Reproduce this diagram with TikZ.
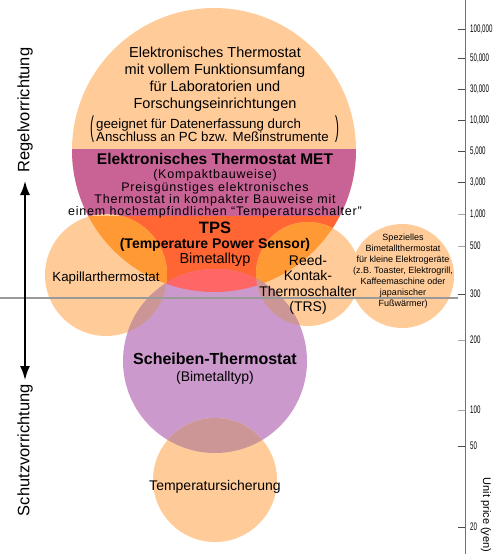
\documentclass[tikz,border=0pt]{standalone}
\usepackage{graphicx}
\usepackage{fontspec}
\setmainfont{Liberation Sans}
\newfontfamily\narrowfont[FakeStretch=0.56]{Liberation Sans}
\newfontfamily\spacedfont[LetterSpace=6.5]{Liberation Sans}
\usetikzlibrary{arrows.meta}

\definecolor{peach}{RGB}{255,204,153}
\definecolor{metband}{RGB}{201,99,150}
\definecolor{tpsred}{RGB}{255,102,51}
\definecolor{mixorange}{RGB}{255,153,51}
\definecolor{mixpink}{RGB}{255,102,102}
\definecolor{scheiben}{RGB}{204,153,204}
\definecolor{mixmauve}{RGB}{204,150,150}

\newcommand{\ticklblfont}{\narrowfont\fontsize{11}{13}\selectfont}

\begin{document}
\begin{tikzpicture}[
    x=1pt, y=-1pt,
    >=Latex,
    lbl/.style         = {align=center, inner sep=0pt, text=black},
    axis-line/.style   = {draw=black!55, line width=0.8pt},
    tick-dark/.style   = {draw=black!70, line width=0.8pt},
    tick-light/.style  = {draw=black!35, line width=0.8pt},
    tick-lbl/.style    = {anchor=west, inner sep=0pt, font=\ticklblfont},
    divider/.style     = {draw=black!40, line width=1.8pt},
    range-arrow/.style = {{Latex[length=14pt,width=10pt]}-{Latex[length=14pt,width=10pt]},
                          line width=1.8pt},
    side-lbl/.style    = {rotate=90, inner sep=0pt, font=\fontsize{16.5}{18}\selectfont}
  ]
\useasboundingbox (0,0) rectangle (494,554);

% =========================================================
% Circles (centre and radius in pixels of the page)
% =========================================================
\def\cBig{(214,150) circle (142)}
\def\cKap{(106,275) circle (61)}
\def\cReed{(308,274) circle (52)}
\def\cSpez{(402,276) circle (52)}
\def\cSch{(215,361) circle (92)}
\def\cSich{(215,480) circle (62)}
\def\lowerPart{(0,216) rectangle (494,554)}

% big circle with its three bands
\fill[peach] \cBig;
\begin{scope}
  \clip \cBig;
  \fill[metband] (0,149) rectangle (494,216);
  \fill[tpsred] \lowerPart;
\end{scope}

% side circles and their overlap with the TPS band
\fill[peach] \cKap;
\fill[peach] \cReed;
\fill[peach] \cSpez;
\begin{scope}
  \clip \cBig;
  \clip \lowerPart;
  \fill[mixorange] \cKap;
  \fill[mixorange] \cReed;
\end{scope}

% lower circles and overlaps
\fill[scheiben] \cSch;
\fill[peach] \cSich;
\begin{scope}
  \clip \cSch;
  \begin{scope}
    \clip \cBig;
    \fill[mixpink] \lowerPart;
  \end{scope}
  \fill[mixmauve] \cKap;
  \fill[mixmauve] \cReed;
  \fill[mixmauve] \cSich;
\end{scope}

% =========================================================
% Divider and price axis
% =========================================================
\coordinate (div-l) at (0,298);
\coordinate (div-r) at (458,298);
\draw[divider] (div-l) -- (div-r);

\coordinate (axis-top) at (465,0);
\coordinate (axis-bot) at (465,554);
\draw[axis-line] (axis-top) -- (axis-bot);

\foreach \ty/\tl/\ts in {29/{100,000}/dark, 58/{50,000}/dark, 89/{30,000}/dark,
    120/{10,000}/dark, 151/{5,000}/dark, 182/{3,000}/dark, 214/{1,000}/light,
    246/500/light, 294/300/dark, 340/200/light, 410/100/light, 446/50/dark,
    527/20/dark}{
  \coordinate (tick-\ty) at (458,\ty);
  \draw[tick-\ts] (tick-\ty) -- ++(7,0);
  \node[tick-lbl] (tlbl-\ty) at (470,\ty) {\tl};
}
\node[rotate=-90, inner sep=0pt, font=\fontsize{11}{13}\selectfont] (lab-price)
  at (486,515) {Unit price (yen)};

% =========================================================
% Left double arrow
% =========================================================
\coordinate (reg-end) at (25,181);
\coordinate (sch-end) at (25,380);
\draw[range-arrow] (reg-end) -- (sch-end);
\node[side-lbl] (lab-regel) at (25,110) {Regelvorrichtung};
\node[side-lbl] (lab-schutz) at (25,450) {Schutzvorrichtung};

% =========================================================
% Texts in the circles
% =========================================================
\node[lbl, font=\fontsize{14.5}{17}\selectfont] (lab-top) at (215,79)
  {Elektronisches Thermostat\\mit vollem Funktionsumfang\\für Laboratorien und\\Forschungseinrichtungen};
\node[lbl, align=left, anchor=west, font=\fontsize{13.3}{13.5}\selectfont] (lab-note) at (96,130)
  {geeignet für Datenerfassung durch\\Anschluss an PC bzw. Meßinstrumente};
\node[lbl, font=\fontsize{13}{14}\selectfont] (paren-l) at (92,129) {\scalebox{0.9}[2.2]{(}};
\node[lbl, font=\fontsize{13}{14}\selectfont] (paren-r) at (337,129) {\scalebox{0.9}[2.2]{)}};

\node[lbl, font=\bfseries\fontsize{15.5}{17}\selectfont] (lab-met) at (215,159)
  {Elektronisches Thermostat MET};
\node[lbl, font=\spacedfont\fontsize{12.5}{12.2}\selectfont] (lab-met-sub) at (215,194)
  {(Kompaktbauweise)\\Preisgünstiges elektronisches\\Thermostat in kompakter Bauweise mit\\einem hochempfindlichen “Temperaturschalter”};

\node[lbl, font=\bfseries\fontsize{16.5}{18}\selectfont] (lab-tps) at (215,228) {TPS};
\node[lbl, font=\bfseries\fontsize{14}{16}\selectfont] (lab-tps-name) at (215,245)
  {(Temperature Power Sensor)};
\node[lbl, font=\fontsize{14.5}{16}\selectfont] (lab-tps-type) at (215,260) {Bimetalltyp};

\node[lbl, font=\fontsize{13.3}{15}\selectfont] (lab-kap) at (106,278) {Kapillarthermostat};
\node[lbl, font=\fontsize{14}{15.3}\selectfont] (lab-reed) at (308,285)
  {Reed-\\Kontak-\\Thermoschalter\\(TRS)};
\node[lbl, font=\fontsize{9}{11}\selectfont] (lab-spez) at (403,271)
  {Spezielles\\Bimetallthermostat\\für kleine Elektrogeräte\\(z.B. Toaster, Elektrogrill,\\Kaffeemaschine oder\\japanischer\\Fußwärmer)};

\node[lbl, font=\bfseries\fontsize{16}{18}\selectfont] (lab-sch) at (215,359) {Scheiben-Thermostat};
\node[lbl, font=\fontsize{14}{16}\selectfont] (lab-sch-type) at (215,378) {(Bimetalltyp)};
\node[lbl, font=\fontsize{14}{16}\selectfont] (lab-sich) at (215,487) {Temperatursicherung};

\end{tikzpicture}
\end{document}
